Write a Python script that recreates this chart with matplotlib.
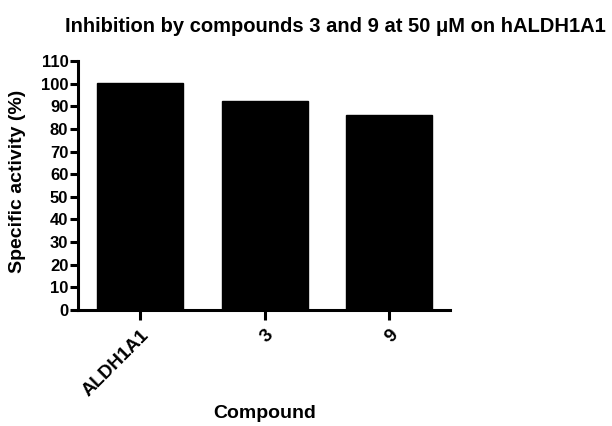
import matplotlib
matplotlib.use("Agg")
import matplotlib.pyplot as plt
import numpy as np

plt.rcParams['font.family'] = ['Liberation Sans', 'DejaVu Sans']
plt.rcParams['font.weight'] = 'bold'

compounds = ["ALDH1A1", "3", "9"]
activity = [100.3, 92.2, 86.0]
yticks = np.arange(0, 111, 10)

fig = plt.figure(figsize=(6.12, 4.26), dpi=100)
ax = fig.add_axes([78 / 612, 116 / 426, 372 / 612, 249 / 426])

x = np.arange(len(compounds))
ax.bar(x, activity, width=0.69, color='black', edgecolor='black')

ax.set_xlim(-0.5, 2.49)
ax.set_ylim(0, 110)
ax.set_yticks(yticks)
ax.set_xticks(x)
ax.set_xticklabels(compounds, rotation=45, ha='right', rotation_mode='anchor')

for s in ['top', 'right']:
    ax.spines[s].set_visible(False)
for s in ['left', 'bottom']:
    ax.spines[s].set_linewidth(2.2)

ax.tick_params(axis='y', length=6, width=2.2, labelsize=12, pad=1)
ax.tick_params(axis='x', length=7, width=2.2, labelsize=13.5, pad=5)
for lab in ax.get_xticklabels() + ax.get_yticklabels():
    lab.set_fontweight('bold')

# axis titles placed by hand to match the reference
fig.text(18 / 612, 1 - 181 / 426, 'Specific activity (%)', rotation=90,
         ha='center', va='center', fontsize=14, fontweight='bold')
fig.text(265 / 612, 1 - 414 / 426, 'Compound', ha='center', va='center',
         fontsize=14, fontweight='bold')
fig.text(335 / 612, 1 - 27 / 426, 'Inhibition by compounds 3 and 9 at 50 \u03bcM on hALDH1A1',
         ha='center', va='center', fontsize=14.5, fontweight='bold')

fig.savefig('out.png', dpi=100)
